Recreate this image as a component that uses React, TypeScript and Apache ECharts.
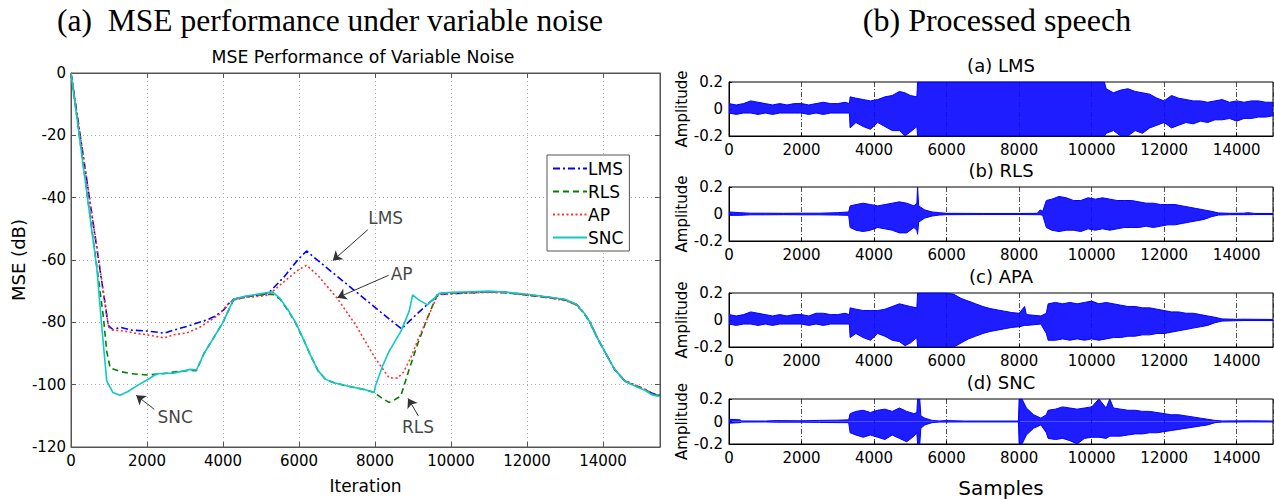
import React, { useEffect, useRef } from "react";
import * as echarts from "echarts";

// ---------- (a) MSE curves: [iteration, MSE dB] ----------
const mseLMS: [number, number][] = [
  [0, 0], [980, -81], [1100, -82.3], [1300, -81.6], [1600, -82.5], [2000, -82.8], [2300, -83.2], [2450, -83.5],
  [2700, -82.5], [3050, -81.3], [3300, -80.3], [3580, -79.2], [3800, -78], [4020, -76], [4150, -74], [4280, -72.6],
  [4600, -71.8], [5000, -71.2], [5200, -70.6], [5600, -65.5], [6000, -59.5], [6200, -57.1], [6500, -60.2],
  [7000, -65.2], [7500, -70.2], [8000, -75.2], [8400, -79.2], [8700, -82.1], [9000, -78.5], [9400, -74],
  [9700, -71], [10000, -70.8], [10500, -70.5], [11000, -70.2], [11500, -70.4], [12000, -71.2], [12500, -71.8],
  [13000, -72.8], [13300, -74.2], [13500, -77], [13650, -79.8], [13850, -85], [14050, -89.5], [14300, -95],
  [14570, -98.8], [14840, -100.2], [15100, -101.5], [15300, -102.8], [15500, -103.5],
];
const mseRLS: [number, number][] = [
  [0, 0], [700, -64], [850, -78], [940, -89.3], [1030, -94.6], [1300, -95.8], [1600, -96.5], [2000, -96.9],
  [2400, -96.5], [2800, -95.8], [3140, -95.4], [3300, -95.5], [3500, -90], [3800, -84], [4000, -80], [4150, -76],
  [4280, -72.8], [4600, -71.8], [5000, -71.2], [5300, -71], [5500, -72.5], [5700, -76], [5900, -80], [6100, -85],
  [6300, -90.5], [6500, -95.5], [6700, -98.3], [6920, -99.4], [7300, -100.5], [7700, -101.5], [7980, -102.5],
  [8200, -104.5], [8370, -105.7], [8500, -105], [8680, -103.6], [8900, -95], [9150, -86], [9400, -78],
  [9650, -70.7], [10000, -70.6], [10500, -70.4], [11000, -70.2], [11500, -70.6], [12000, -71.2], [12500, -72],
  [13000, -72.8], [13300, -74.4], [13500, -77], [13650, -80], [13850, -85], [14050, -89.5], [14300, -95],
  [14570, -98.8], [14840, -100.4], [15100, -101.5], [15300, -103], [15500, -103.6],
];
const mseAP: [number, number][] = [
  [0, 0], [990, -81.5], [1100, -82.5], [1400, -82.8], [1700, -83.5], [2000, -84], [2450, -85], [2700, -84],
  [3050, -83.4], [3400, -81.5], [3650, -79.5], [3900, -77.5], [4100, -74.5], [4280, -72.8], [4600, -72],
  [5000, -71.6], [5200, -71.2], [5600, -67], [6000, -63], [6200, -61.7], [6500, -65], [7000, -72.2],
  [7500, -81], [8000, -91.4], [8370, -97.8], [8590, -97.9], [8750, -96], [8940, -91.4], [9150, -85],
  [9380, -78.7], [9650, -71.2], [10000, -70.8], [10500, -70.6], [11000, -70.4], [11500, -70.6], [12000, -71.3],
  [12500, -72], [13000, -73], [13300, -74.5], [13500, -77], [13650, -80], [13850, -85], [14050, -89.5],
  [14300, -95], [14570, -98.6], [14840, -100], [15100, -101.5], [15300, -103], [15500, -103.8],
];
const mseSNC: [number, number][] = [
  [0, 0], [680, -62.7], [800, -80], [940, -98.8], [1100, -102.5], [1290, -103.4], [1500, -102.2], [1730, -100.4],
  [2000, -98.5], [2260, -96.5], [2700, -96.3], [3000, -95.5], [3140, -95.1], [3300, -95.3], [3500, -90],
  [3800, -84], [4000, -80], [4150, -76], [4280, -72.5], [4600, -71.6], [5000, -70.8], [5300, -70.2],
  [5500, -72.3], [5700, -75.8], [5900, -79.8], [6100, -85], [6300, -90.5], [6500, -95.5], [6700, -98.3],
  [6920, -99.4], [7300, -100.5], [7700, -101.5], [7980, -102.5], [8010, -100.4], [8200, -94], [8370, -89.3],
  [8680, -82.9], [8900, -76.4], [8990, -71.2], [9150, -72.8], [9380, -74.4], [9690, -70.7], [10000, -70.4],
  [10500, -70.2], [11000, -70], [11500, -70.4], [12000, -71], [12500, -71.8], [13000, -72.6], [13300, -74.2],
  [13500, -77], [13650, -79.8], [13850, -85], [14050, -89.5], [14300, -95], [14570, -98.8], [14840, -100.4],
  [15100, -101.8], [15300, -103.3], [15500, -103.8],
];

const mseNames = ["LMS", "RLS", "AP", "SNC"];
const xTicksLeft = [0, 2000, 4000, 6000, 8000, 10000, 12000, 14000];
const yTicksLeft = [0, -20, -40, -60, -80, -100, -120];

// annotation labels and arrows in data coordinates
const annotLabels = [
  { name: "LMS", value: [8280, -46.5] },
  { name: "AP", value: [8700, -64.5] },
  { name: "RLS", value: [9130, -113.7] },
  { name: "SNC", value: [2740, -110.5] },
];
const annotArrows: [number, number][][] = [
  [[7810, -50.3], [6890, -60.2]],
  [[8360, -64.9], [7010, -72.1]],
  [[9140, -110], [8870, -104.4]],
  [[2190, -107.9], [1715, -103.4]],
];

// ---------- (b) processed speech: [sample, upper envelope, lower envelope] ----------
const speechLMS: [number, number, number][] = [
  [0, 0.04, -0.03], [200, 0.03, -0.04], [400, 0.04, -0.03], [600, 0.06, -0.03], [800, 0.05, -0.04],
  [1000, 0.04, -0.03], [1200, 0.03, -0.04], [1400, 0.04, -0.03], [1600, 0.03, -0.03], [1800, 0.04, -0.03],
  [2000, 0.04, -0.03], [2200, 0.03, -0.04], [2400, 0.04, -0.03], [2600, 0.05, -0.04], [2800, 0.04, -0.03],
  [3000, 0.04, -0.03], [3200, 0.05, -0.03], [3320, 0.04, -0.03], [3340, 0.09, -0.14], [3500, 0.08, -0.1],
  [3700, 0.07, -0.13], [3900, 0.06, -0.15], [4100, 0.07, -0.1], [4300, 0.09, -0.13], [4500, 0.1, -0.16],
  [4700, 0.13, -0.16], [4850, 0.12, -0.2], [5000, 0.1, -0.17], [5180, 0.09, -0.13], [5200, 0.2, -0.2],
  [10350, 0.2, -0.2], [10400, 0.15, -0.18], [10600, 0.12, -0.16], [10800, 0.14, -0.2], [11000, 0.15, -0.2],
  [11200, 0.13, -0.16], [11400, 0.12, -0.18], [11600, 0.11, -0.14], [11800, 0.08, -0.12], [12000, 0.06, -0.1],
  [12200, 0.1, -0.14], [12400, 0.08, -0.12], [12600, 0.07, -0.1], [12800, 0.06, -0.11], [13000, 0.06, -0.09],
  [13200, 0.05, -0.1], [13400, 0.06, -0.08], [13600, 0.07, -0.08], [13800, 0.05, -0.07], [14000, 0.06, -0.09],
  [14200, 0.05, -0.07], [14400, 0.06, -0.07], [14600, 0.06, -0.06], [14800, 0.05, -0.06], [15000, 0.05, -0.05],
];
const speechRLS: [number, number, number][] = [
  [0, 0.015, -0.01], [300, 0.01, -0.01], [600, 0.006, -0.006], [1000, 0.006, -0.006], [1500, 0.005, -0.005],
  [2000, 0.006, -0.006], [2500, 0.006, -0.006], [3000, 0.01, -0.008], [3300, 0.015, -0.01], [3340, 0.06, -0.1],
  [3500, 0.07, -0.12], [3700, 0.08, -0.13], [3900, 0.07, -0.12], [4100, 0.06, -0.1], [4300, 0.07, -0.11],
  [4500, 0.08, -0.12], [4700, 0.09, -0.14], [4900, 0.08, -0.14], [5100, 0.06, -0.1], [5180, 0.08, -0.12],
  [5200, 0.2, -0.15], [5230, 0.06, -0.06], [5400, 0.03, -0.03], [5600, 0.015, -0.015], [5800, 0.01, -0.008],
  [6000, 0.005, -0.005], [7000, 0.004, -0.004], [8000, 0.004, -0.004], [8500, 0.005, -0.005], [8580, 0.03, -0.005],
  [8650, 0.02, -0.01], [8750, 0.1, -0.1], [8900, 0.11, -0.12], [9100, 0.13, -0.13], [9300, 0.12, -0.12],
  [9500, 0.1, -0.12], [9700, 0.1, -0.13], [9900, 0.12, -0.11], [10100, 0.11, -0.12], [10300, 0.12, -0.11],
  [10500, 0.11, -0.12], [10700, 0.1, -0.11], [10900, 0.1, -0.1], [11100, 0.1, -0.1], [11300, 0.09, -0.1],
  [11500, 0.08, -0.09], [11700, 0.08, -0.1], [11900, 0.07, -0.09], [12100, 0.07, -0.08], [12300, 0.07, -0.08],
  [12500, 0.06, -0.07], [12700, 0.05, -0.06], [12900, 0.04, -0.05], [13100, 0.03, -0.04], [13300, 0.02, -0.02],
  [13500, 0.008, -0.008], [13800, 0.005, -0.005], [14200, 0.006, -0.005], [14300, 0.01, -0.005],
  [14500, 0.004, -0.004], [15000, 0.004, -0.004],
];
const speechAPA: [number, number, number][] = [
  [0, 0.04, -0.03], [200, 0.03, -0.04], [400, 0.04, -0.03], [600, 0.06, -0.03], [800, 0.05, -0.04],
  [1000, 0.04, -0.03], [1200, 0.03, -0.04], [1400, 0.04, -0.03], [1600, 0.03, -0.03], [1800, 0.04, -0.03],
  [2000, 0.04, -0.03], [2200, 0.03, -0.04], [2400, 0.05, -0.03], [2600, 0.05, -0.04], [2800, 0.04, -0.03],
  [3000, 0.04, -0.03], [3200, 0.05, -0.03], [3320, 0.04, -0.03], [3340, 0.09, -0.13], [3500, 0.08, -0.1],
  [3700, 0.07, -0.13], [3900, 0.07, -0.15], [4100, 0.07, -0.1], [4300, 0.08, -0.12], [4500, 0.1, -0.15],
  [4700, 0.12, -0.16], [4850, 0.11, -0.19], [5000, 0.1, -0.17], [5180, 0.09, -0.13], [5200, 0.2, -0.2],
  [6000, 0.2, -0.2], [6200, 0.19, -0.2], [6400, 0.16, -0.17], [6600, 0.14, -0.14], [6800, 0.12, -0.12],
  [7000, 0.1, -0.1], [7200, 0.085, -0.085], [7400, 0.075, -0.075], [7600, 0.065, -0.065], [7800, 0.055, -0.055],
  [8000, 0.05, -0.05], [8150, 0.1, -0.04], [8200, 0.04, -0.04], [8400, 0.035, -0.035], [8600, 0.03, -0.03],
  [8750, 0.05, -0.1], [8800, 0.12, -0.15], [9000, 0.13, -0.15], [9200, 0.12, -0.14], [9400, 0.13, -0.15],
  [9600, 0.12, -0.14], [9800, 0.13, -0.15], [10000, 0.14, -0.14], [10200, 0.12, -0.15], [10400, 0.13, -0.14],
  [10600, 0.12, -0.13], [10800, 0.11, -0.13], [11000, 0.1, -0.12], [11200, 0.1, -0.12], [11400, 0.09, -0.11],
  [11600, 0.09, -0.11], [11800, 0.08, -0.1], [12000, 0.07, -0.1], [12200, 0.06, -0.09], [12400, 0.06, -0.08],
  [12600, 0.05, -0.07], [12800, 0.05, -0.06], [13000, 0.04, -0.05], [13200, 0.03, -0.04], [13400, 0.02, -0.02],
  [13600, 0.008, -0.008], [14000, 0.005, -0.005], [14200, 0.006, -0.004], [15000, 0.004, -0.004],
];
const speechSNC: [number, number, number][] = [
  [0, 0.02, -0.015], [300, 0.015, -0.01], [350, 0.005, -0.005], [1000, 0.004, -0.004], [1300, 0.008, -0.006],
  [2000, 0.006, -0.006], [2500, 0.01, -0.008], [3000, 0.012, -0.01], [3300, 0.015, -0.01], [3340, 0.07, -0.1],
  [3500, 0.09, -0.12], [3700, 0.1, -0.14], [3900, 0.08, -0.12], [4100, 0.1, -0.14], [4300, 0.11, -0.16],
  [4500, 0.09, -0.12], [4700, 0.12, -0.15], [4900, 0.09, -0.18], [5100, 0.07, -0.13], [5180, 0.08, -0.1],
  [5200, 0.2, -0.2], [5260, 0.2, -0.2], [5290, 0.05, -0.06], [5400, 0.03, -0.03], [5600, 0.01, -0.01],
  [5800, 0.005, -0.005], [6000, 0.008, -0.005], [6500, 0.004, -0.004], [7000, 0.004, -0.004],
  [7980, 0.004, -0.004], [8000, 0.2, -0.2], [8080, 0.2, -0.2], [8200, 0.12, -0.12], [8400, 0.06, -0.06],
  [8600, 0.03, -0.03], [8750, 0.06, -0.1], [8800, 0.1, -0.15], [9000, 0.11, -0.16], [9200, 0.13, -0.15],
  [9400, 0.12, -0.17], [9600, 0.11, -0.2], [9800, 0.12, -0.15], [10000, 0.13, -0.14], [10200, 0.2, -0.14],
  [10400, 0.12, -0.15], [10500, 0.2, -0.13], [10600, 0.12, -0.13], [10800, 0.11, -0.13], [11000, 0.1, -0.12],
  [11200, 0.1, -0.11], [11400, 0.09, -0.11], [11600, 0.09, -0.1], [11800, 0.08, -0.1], [12000, 0.07, -0.09],
  [12200, 0.06, -0.08], [12400, 0.06, -0.07], [12600, 0.05, -0.06], [12800, 0.04, -0.05], [13000, 0.03, -0.04],
  [13200, 0.02, -0.03], [13400, 0.01, -0.01], [13600, 0.005, -0.005], [14400, 0.006, -0.004], [15000, 0.004, -0.004],
];
const speechTitles = ["(a) LMS", "(b) RLS", "(c) APA", "(d) SNC"];
const xTicksRight = [0, 2000, 4000, 6000, 8000, 10000, 12000, 14000];
const yTicksRight = [-0.2, 0, 0.2];

const SANS = "DejaVu Sans";
const SERIF = "Liberation Serif";

export default function App() {
  const ref = useRef<HTMLDivElement>(null);
  useEffect(() => {
    document.body.style.margin = "0";
    const chart = echarts.init(ref.current!, null, { renderer: "svg" });

    const L = { left: 71, top: 73, width: 589, height: 377 };
    const R = { left: 729, width: 544, height: 54 };
    const rightTops = [82, 187, 293, 399];

    const grids: any[] = [
      { ...L, show: true, borderColor: "#555", borderWidth: 1, backgroundColor: "#fff" },
      ...rightTops.map((t) => ({ left: R.left, width: R.width, top: t, height: R.height, show: true, borderColor: "#000", borderWidth: 1 })),
    ];

    const lab = (size: number) => ({ fontFamily: SANS, fontSize: size, color: "#000" });
    const plain = (v: number) => String(v);

    const xAxes: any[] = [
      {
        type: "value", gridIndex: 0, min: 0, max: 15500, interval: xTicksLeft[1] - xTicksLeft[0],
        name: "Iteration", nameLocation: "middle", nameGap: 30, nameTextStyle: lab(17),
        axisLine: { show: true, onZero: false, lineStyle: { color: "#555" } },
        axisTick: { show: true, inside: true, length: 5, lineStyle: { color: "#555" } },
        axisLabel: { ...lab(15), margin: 6, showMaxLabel: false, formatter: plain },
        splitLine: { show: true, lineStyle: { color: "#aaa", type: [1, 3], width: 1 } },
      },
      {
        type: "value", gridIndex: 0, position: "top", min: 0, max: 15500, interval: 2000,
        axisLine: { show: true, onZero: false, lineStyle: { color: "#555" } },
        axisTick: { show: true, inside: true, length: 5, lineStyle: { color: "#555" } },
        axisLabel: { show: false }, splitLine: { show: false },
      },
      ...rightTops.map((_, i) => ({
        type: "value", gridIndex: i + 1, min: 0, max: 15000, interval: xTicksRight[1] - xTicksRight[0],
        name: i === 3 ? "Samples" : "", nameLocation: "middle", nameGap: 34, nameTextStyle: lab(20),
        axisLine: { show: true, onZero: false, lineStyle: { color: "#000" } },
        axisTick: { show: true, inside: true, length: 3, lineStyle: { color: "#000" } },
        axisLabel: { ...lab(15), margin: 6, showMaxLabel: false, formatter: plain },
        splitLine: { show: true, lineStyle: { color: "#222", type: [5, 2, 1, 2], width: 0.8 } },
      })),
    ];

    const yAxes: any[] = [
      {
        type: "value", gridIndex: 0, min: yTicksLeft[yTicksLeft.length - 1], max: yTicksLeft[0], interval: 20,
        name: "MSE (dB)", nameLocation: "middle", nameGap: 44, nameTextStyle: lab(18),
        axisLine: { show: true, onZero: false, lineStyle: { color: "#555" } },
        axisTick: { show: true, inside: true, length: 5, lineStyle: { color: "#555" } },
        axisLabel: { ...lab(15), margin: 5, formatter: plain },
        splitLine: { show: true, lineStyle: { color: "#aaa", type: [1, 3], width: 1 } },
      },
      {
        type: "value", gridIndex: 0, position: "right", min: -120, max: 0, interval: 20,
        axisLine: { show: true, onZero: false, lineStyle: { color: "#555" } },
        axisTick: { show: true, inside: true, length: 5, lineStyle: { color: "#555" } },
        axisLabel: { show: false }, splitLine: { show: false },
      },
      ...rightTops.map((_, i) => ({
        type: "value", gridIndex: i + 1, min: yTicksRight[0], max: yTicksRight[2], interval: 0.2,
        name: "Amplitude", nameLocation: "middle", nameGap: 40, nameTextStyle: lab(15),
        axisLine: { show: true, onZero: false, lineStyle: { color: "#000" } },
        axisTick: { show: true, inside: true, length: 3, lineStyle: { color: "#000" } },
        axisLabel: { ...lab(15), margin: 6, formatter: (v: number) => (Math.abs(v) < 1e-9 ? "0" : String(Math.round(v * 10) / 10)) },
        splitLine: { show: false },
      })),
    ];

    const mseStyles: any[] = [
      { color: "#0000ff", type: [7, 3, 2, 3] },
      { color: "#008000", type: [6, 4] },
      { color: "#ff3030", type: [2, 2.5] },
      { color: "#10c8c8", type: "solid" },
    ];
    const mseData = [mseLMS, mseRLS, mseAP, mseSNC];

    const series: any[] = mseData.map((d, i) => ({
      type: "line", name: mseNames[i], xAxisIndex: 0, yAxisIndex: 0, data: d,
      symbol: "none", showSymbol: false, silent: true,
      lineStyle: { color: mseStyles[i].color, type: mseStyles[i].type, width: 1.6 },
      itemStyle: { color: mseStyles[i].color },
      z: 2 + i,
    }));

    series.push({
      type: "scatter", name: "annot", xAxisIndex: 0, yAxisIndex: 0, data: annotLabels,
      symbolSize: 0, silent: true, z: 10,
      label: { show: true, position: "inside", formatter: "{b}", ...lab(17), color: "#111" },
      markLine: {
        silent: true, symbol: ["none", "arrow"], symbolSize: 9,
        label: { show: false },
        lineStyle: { color: "#333", width: 1, type: "solid" },
        data: annotArrows.map(([a, b]) => [{ coord: a }, { coord: b }]),
      },
    });

    [speechLMS, speechRLS, speechAPA, speechSNC].forEach((pts, i) => {
      [1, 2].forEach((k) => {
        series.push({
          type: "line", name: "speech" + i + "_" + k, xAxisIndex: i + 2, yAxisIndex: i + 2,
          data: pts.map((p) => [p[0], p[k]]),
          symbol: "none", showSymbol: false, silent: true,
          lineStyle: { color: "#0000ff", width: 1 },
          areaStyle: { color: "#0a0aff", opacity: 0.92 },
        });
      });
    });

    const txt = (text: string, x: number, y: number, font: string, size: number) => ({
      type: "text", x, y, silent: true,
      style: { text, fontFamily: font, fontSize: size, fill: "#000", align: "center", verticalAlign: "middle", textAlign: "center", textVerticalAlign: "middle" },
    });

    const graphic: any[] = [
      txt("(a)  MSE performance under variable noise", 330, 20, SERIF, 31.5),
      txt("(b) Processed speech", 997, 20, SERIF, 32),
      txt("MSE Performance of Variable Noise", 363, 57, SANS, 17.3),
      ...speechTitles.map((t, i) => txt(t, 1001, rightTops[i] - 17, SANS, 18)),
    ];

    chart.setOption({
      animation: false,
      backgroundColor: "#fff",
      grid: grids,
      xAxis: xAxes,
      yAxis: yAxes,
      legend: {
        data: mseNames, orient: "vertical", left: 547, top: 155,
        itemWidth: 34, itemHeight: 14, itemGap: 6,
        padding: [5, 6, 5, 5],
        backgroundColor: "#fff", borderColor: "#555", borderWidth: 1,
        itemStyle: { opacity: 0 },
        textStyle: { ...lab(17), padding: [0, 0, 0, -4] },
        selectedMode: false,
      },
      series,
      graphic,
    });
    return () => chart.dispose();
  }, []);
  return <div ref={ref} style={{ width: 1274, height: 499 }} />;
}
